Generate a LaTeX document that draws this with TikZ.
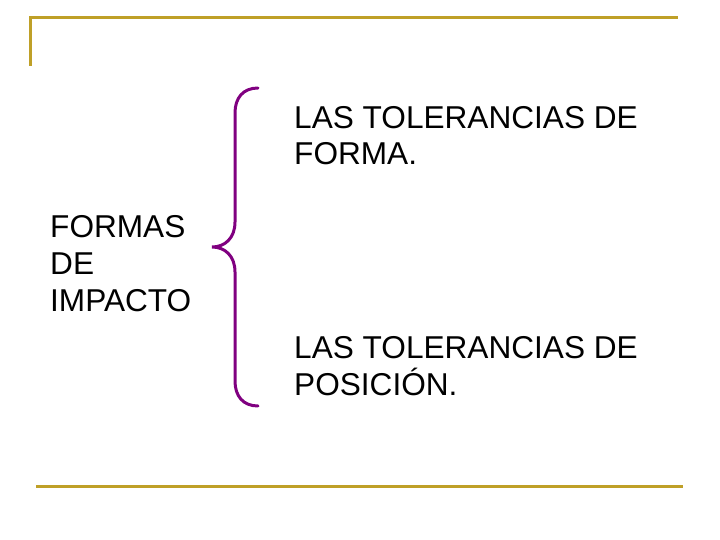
\documentclass[tikz,border=0pt]{standalone}
\usepackage{fontspec}
\setmainfont{Liberation Sans}
\usepackage{tikz}
\definecolor{rulegold}{RGB}{191,160,40}
\definecolor{bracepurple}{RGB}{128,0,128}

\begin{document}
\begin{tikzpicture}[x=1pt,y=-1pt,
    rule/.style={rulegold,line width=3pt},
    label/.style={anchor=base west,inner sep=0pt,align=left,
      font=\fontsize{31.6}{36.8}\selectfont}]
      \useasboundingbox (0,0) rectangle (720,540);
      \draw[rule] (30,66)--(30,18)--(678,18);
      \draw[rule] (36,486)--(683,486);
      \draw[bracepurple,line width=3pt,line cap=round]
        (258,88) .. controls (243,88) and (235,98) .. (235,113) -- (235,222)
        .. controls (235,238) and (225,247) .. (212,247)
        .. controls (225,247) and (235,256) .. (235,272) -- (235,381)
        .. controls (235,396) and (243,406) .. (258,406);
      % base anchor = baseline of the last line
      \node [label] (forma) at (294,165) {LAS TOLERANCIAS DE\\FORMA.};
      \node [label] (impacto) at (50,311) {FORMAS\\DE\\IMPACTO};
      \node [label] (posicion) at (294,395) {LAS TOLERANCIAS DE\\POSICIÓN.};
    \end{tikzpicture}
\end{document}
